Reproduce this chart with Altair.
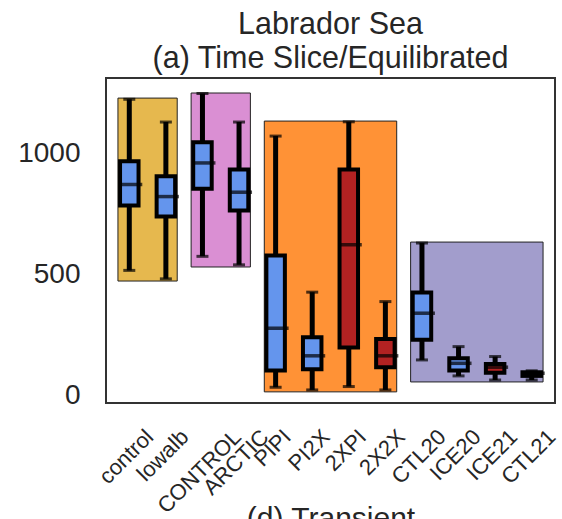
import altair as alt
import pandas as pd

# ---- data ----
categories = ["control", "lowalb", "CONTROL", "ARCTIC", "PIPI", "PI2X",
              "2XPI", "2X2X", "CTL20", "ICE20", "ICE21", "CTL21"]
whisker_low = [519, 484, 577, 542, 36, 25, 39, 25, 149, 83, 66, 66]
q1 = [787, 742, 856, 766, 105, 110, 200, 119, 232, 105, 96, 83]
median = [874, 824, 963, 842, 280, 166, 625, 166, 342, 135, 119, 94]
q3 = [970, 908, 1049, 936, 580, 243, 936, 235, 428, 156, 132, 98]
whisker_high = [1226, 1132, 1250, 1132, 1074, 429, 1133, 390, 632, 204, 163, 104]
box_kind = ["pi", "pi", "pi", "pi", "pi", "pi", "2x", "2x", "pi", "pi", "2x", "2x"]

group_first = ["control", "CONTROL", "PIPI", "CTL20"]
group_last = ["lowalb", "ARCTIC", "2X2X", "CTL21"]
group_top = [1231, 1252, 1136, 636]
group_bottom = [475, 533, 17, 58]
group_fill = ["#E6B84E", "#DA8FD3", "#FF9236", "#A29DCC"]

BLUE = "#6495ED"
RED = "#B22222"
TXT = "#262626"
FONT = "Liberation Sans"
LABEL_FS = 22

# ---- tables ----
box_df = pd.DataFrame({
    "name": categories,
    "idx": list(range(len(categories))),
    "lo": whisker_low, "q1": q1, "med": median, "q3": q3, "hi": whisker_high,
    "fill": [BLUE if k == "pi" else RED for k in box_kind],
})

grp_df = pd.DataFrame({
    "i0": [categories.index(c) for c in group_first],
    "i1": [categories.index(c) for c in group_last],
    "top": group_top, "bottom": group_bottom, "fill": group_fill,
})

# approximate Arial advance widths (1/1000 em) to mimic centred rotated labels
_w = {"c": 500, "o": 556, "n": 556, "t": 278, "r": 333, "l": 222, "w": 722,
      "a": 556, "b": 556, "C": 722, "O": 778, "N": 722, "T": 611, "R": 722,
      "L": 556, "A": 667, "I": 278, "P": 667, "X": 667, "2": 556, "0": 556,
      "1": 556, "E": 667}
lab_df = pd.DataFrame({
    "name": categories,
    "idx": list(range(len(categories))),
    "ly": [355.5 + sum(_w.get(ch, 556) for ch in c) / 1000 * LABEL_FS / 2.828
           for c in categories],
})

W, H = 449, 325
xscale = alt.Scale(domain=[-0.5, len(categories) - 0.5], nice=False, zero=False)
yscale = alt.Scale(domain=[-29, 1314], nice=False, zero=False)

xaxis = alt.Axis(labels=False, ticks=False, domain=False, grid=False,
                 title="(d) Transient", titleFont=FONT, titleFontSize=30,
                 titleFontWeight="normal", titleColor=TXT, titlePadding=100)
yaxis = alt.Axis(values=[0, 500, 1000], format="d", labelFont=FONT,
                 labelFontSize=28, labelColor=TXT, ticks=False, tickSize=0,
                 domain=False, grid=False, labelPadding=26, title=None)

groups = alt.Chart(grp_df).transform_calculate(
    x0="datum.i0 - 0.31", x1="datum.i1 + 0.31"
).mark_rect(stroke="#222222", strokeWidth=1).encode(
    x=alt.X("x0:Q", scale=xscale, axis=xaxis),
    x2="x1:Q",
    y=alt.Y("top:Q", scale=yscale, axis=yaxis),
    y2="bottom:Q",
    fill=alt.Fill("fill:N", scale=None),
)

base = alt.Chart(box_df)

whiskers = base.mark_rule(color="black", strokeWidth=5).encode(
    x=alt.X("idx:Q", scale=xscale),
    y=alt.Y("lo:Q", scale=yscale),
    y2="hi:Q",
)

cap_hi = base.mark_tick(color="black", orient="horizontal", size=12,
                        thickness=3).encode(
    x=alt.X("idx:Q", scale=xscale), y=alt.Y("hi:Q", scale=yscale))
cap_lo = base.mark_tick(color="black", orient="horizontal", size=12,
                        thickness=3).encode(
    x=alt.X("idx:Q", scale=xscale), y=alt.Y("lo:Q", scale=yscale))

boxes = base.mark_bar(orient="vertical", size=18.5, stroke="black",
                      strokeWidth=4).encode(
    x=alt.X("idx:Q", scale=xscale),
    y=alt.Y("q1:Q", scale=yscale),
    y2="q3:Q",
    fill=alt.Fill("fill:N", scale=None),
)

medians = base.mark_tick(color="black", orient="horizontal", size=23,
                         thickness=3.5, xOffset=1.5).encode(
    x=alt.X("idx:Q", scale=xscale), y=alt.Y("med:Q", scale=yscale))

labels = alt.Chart(lab_df).mark_text(
    angle=315, align="center", baseline="middle", font=FONT,
    fontSize=LABEL_FS, color=TXT, xOffset=-3
).encode(
    x=alt.X("idx:Q", scale=xscale),
    y=alt.Y("ly:Q", scale=None),
    text="name:N",
)

chart = alt.layer(groups, whiskers, cap_hi, cap_lo, boxes, medians, labels).properties(
    width=W, height=H,
    title=alt.Title(["Labrador Sea", "(a) Time Slice/Equilibrated"],
                    font=FONT, fontSize=30.5, fontWeight="normal", color=TXT,
                    anchor="middle", frame="group", offset=4, lineHeight=34),
    autosize=alt.AutoSizeParams(type="none"),
    padding={"left": 106, "top": 78, "right": 7, "bottom": 116},
    background="white",
).configure_view(stroke="#333333", strokeWidth=2)

chart.save("out.html", embed_options={"renderer": "svg", "actions": False})
